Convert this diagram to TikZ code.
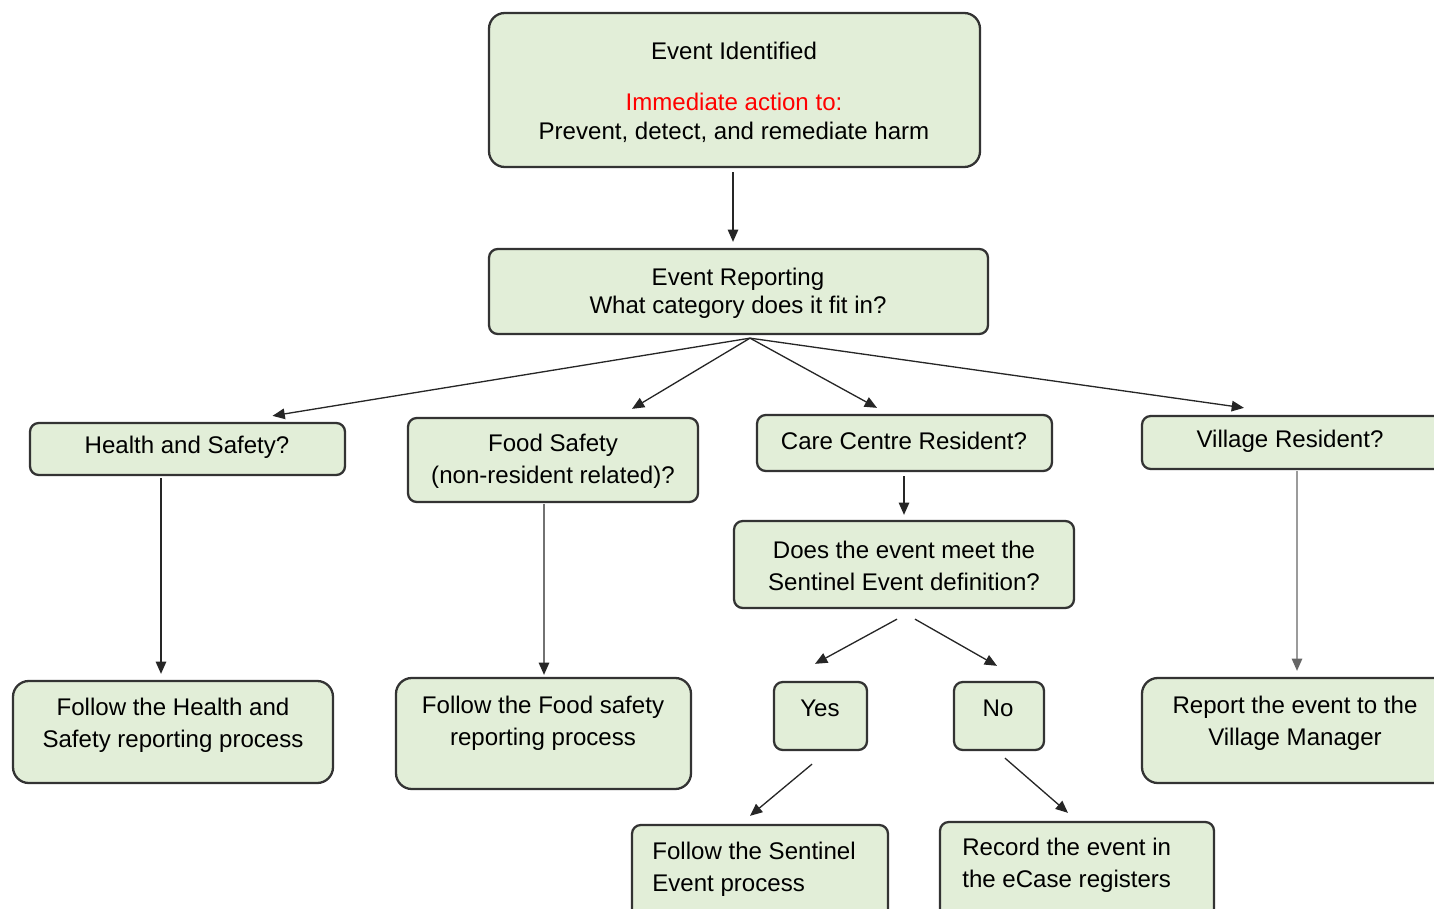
\documentclass[tikz,border=0pt]{standalone}
\usepackage{fontspec}
\setmainfont{Liberation Sans}
\usetikzlibrary{fit,calc,arrows.meta}
\definecolor{boxfill}{HTML}{E2EED8}
\definecolor{boxline}{HTML}{333333}
\tikzset{
  box/.style={draw=boxline, line width=1.3pt, fill=boxfill, rounded corners=5pt, inner sep=0pt},
  bigbox/.style={box, rounded corners=9pt},
  txt/.style={inner sep=0pt, align=center, font=\fontsize{13.7}{18.2}\selectfont},
  ltxt/.style={txt, align=left, anchor=west},
  arr/.style={draw=black!85, line width=0.75pt, -{Triangle[length=7pt,width=6pt]}},
  garr/.style={arr, draw=black!60},
}
\begin{document}
\begin{tikzpicture}[x=0.02cm, y=-0.02cm]
\useasboundingbox (0,0) rectangle (1434,909);
\clip (0,0) rectangle (1434,909);
% boxes
\node[bigbox, fit={(489,13) (980,167)}] (top) {};
\node[box, fit={(489,249) (988,334)}] (rep) {};
\node[box, fit={(30,423) (345,475)}] (hs) {};
\node[box, fit={(408,418) (698,502)}] (food) {};
\node[box, fit={(757,415) (1052,471)}] (care) {};
\node[box, fit={(1142,416) (1445,469)}] (vil) {};
\node[box, fit={(734,521) (1074,608)}] (sent) {};
\node[bigbox, fit={(13,681) (333,783)}] (fhs) {};
\node[bigbox, fit={(396,678) (691,789)}] (ffood) {};
\node[box, fit={(774,682) (867,750)}] (yes) {};
\node[box, fit={(954,682) (1044,750)}] (no) {};
\node[bigbox, fit={(1142,678) (1450,783)}] (report) {};
\node[box, fit={(632,825) (888,925)}] (fsent) {};
\node[box, fit={(940,822) (1214,925)}] (rec) {};
% texts
\node[txt] (t1) at (734,51) {Event Identified};
\node[txt, font=\fontsize{13.7}{16.5}\selectfont] (t2) at (734,118) {\textcolor{red}{Immediate action to:}\\Prevent, detect, and remediate harm};
\node[txt, font=\fontsize{13.7}{15.9}\selectfont] (t3) at (738,293) {Event Reporting\\What category does it fit in?};
\node[txt] (t4) at (187,447) {Health and Safety?};
\node[txt] (t5) at (553,461) {Food Safety\\(non-resident related)?};
\node[txt] (t6) at (904,441) {Care Centre Resident?};
\node[txt] (t7) at (1290,441) {Village Resident?};
\node[txt] (t8) at (904,566) {Does the event meet the\\Sentinel Event definition?};
\node[txt] (t9) at (173,725) {Follow the Health and\\Safety reporting process};
\node[txt] (t10) at (543,723) {Follow the Food safety\\reporting process};
\node[txt] (t11) at (820,708) {Yes};
\node[txt] (t12) at (998,708) {No};
\node[txt] (t13) at (1295,723) {Report the event to the\\Village Manager};
\node[ltxt] (t14) at (652,869) {Follow the Sentinel\\Event process};
\node[ltxt] (t15) at (962,865) {Record the event in\\the eCase registers};
% connectors
\draw[arr] ($(top.south)+(-1.5,4)$) -- ($(rep.north)+(-5.5,-6)$);
\coordinate (fan) at ($(rep.south)+(11.5,3)$);
\draw[arr] (fan) -- ($(hs.north)+(85,-6)$);
\draw[arr] (fan) -- ($(food.north)+(79,-8)$);
\draw[arr] (fan) -- ($(care.north)+(-27.5,-6)$);
\draw[arr] (fan) -- ($(vil.north)+(-49.5,-7)$);
\draw[arr] ($(care.south)+(-0.5,4)$) -- ($(sent.north)+(0,-5)$);
\draw[arr] ($(sent.south)+(-7,10)$) -- ($(yes.north)+(-5.5,-17)$);
\draw[arr] ($(sent.south)+(11,10)$) -- ($(no.north)+(-2,-15)$);
\draw[arr] ($(yes.south)+(-8.5,13)$) -- ($(fsent.north)+(-10,-8)$);
\draw[arr] ($(no.south)+(6,7)$) -- ($(rec.north)+(-9,-8)$);
\draw[arr] ($(hs.south)+(-26.5,2)$) -- ($(fhs.north)+(-12,-6)$);
\draw[arr] ($(food.south)+(-9,1)$) -- ($(ffood.north)+(0.5,-2)$);
\draw[garr] ($(vil.south)+(3.5,1)$) -- ($(report.north)+(1,-6)$);
\end{tikzpicture}
\end{document}
